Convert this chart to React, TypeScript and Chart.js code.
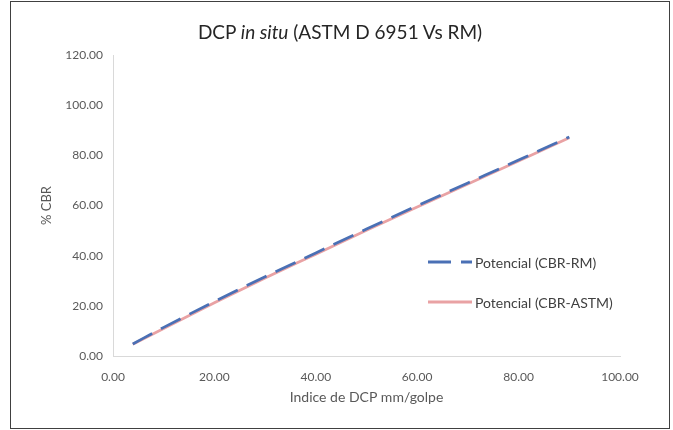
import React, { useEffect, useRef } from "react";
import { Chart, registerables } from "chart.js";

Chart.register(...registerables);

// Data
const xIndex = [3.9, 10, 20, 30, 40, 50, 60, 70, 80, 90];
const cbrRM = [4.8, 11.4, 21.7, 31.6, 41.1, 50.6, 59.9, 69.0, 78.1, 87.3];
const cbrASTM = [4.7, 11.0, 21.2, 31.1, 40.6, 50.1, 59.4, 68.6, 77.7, 87.0];

const seriesNames = ["Potencial (CBR-RM)", "Potencial (CBR-ASTM)"];
const xAxisTitle = "Indice de DCP mm/golpe";
const yAxisTitle = "% CBR";
const xMin = 0, xMax = 100, xStep = 20;
const yMin = 0, yMax = 120, yStep = 20;

const BLUE = "#4a70b5";
const PINK = "#e9a2a4";
const TEXT = "#595959";
const FONT = "Lato, 'Open Sans', sans-serif";

export default function App() {
  const canvasRef = useRef<HTMLCanvasElement | null>(null);

  useEffect(() => {
    const canvas = canvasRef.current;
    if (!canvas) return;
    const toPts = (ys: number[]) => xIndex.map((x, i) => ({ x, y: ys[i] }));
    const chart = new Chart(canvas, {
      type: "scatter",
      data: {
        datasets: [
          {
            label: seriesNames[0],
            data: toPts(cbrRM),
            showLine: true,
            borderColor: BLUE,
            backgroundColor: BLUE,
            borderWidth: 2.75,
            borderDash: [22, 10],
            pointRadius: 0,
            cubicInterpolationMode: "monotone",
          },
          {
            label: seriesNames[1],
            data: toPts(cbrASTM),
            showLine: true,
            borderColor: PINK,
            backgroundColor: PINK,
            borderWidth: 2.75,
            pointRadius: 0,
            cubicInterpolationMode: "monotone",
          },
        ],
      },
      options: {
        animation: false,
        responsive: false,
        maintainAspectRatio: false,
        layout: { padding: { left: 24, right: 49, top: 53, bottom: 18 } },
        plugins: {
          legend: { display: false },
          title: { display: false },
          tooltip: { enabled: false },
        },
        scales: {
          x: {
            type: "linear",
            min: xMin,
            max: xMax,
            grid: { display: false, drawTicks: false },
            border: { display: true, color: "#d9d9d9", width: 1 },
            ticks: {
              stepSize: xStep,
              padding: 14,
              color: TEXT,
              font: { family: FONT, size: 12 },
              callback: (v: any) => Number(v).toFixed(2),
            },
            title: {
              display: true,
              text: xAxisTitle,
              color: TEXT,
              font: { family: FONT, size: 14 },
              padding: { top: 6, bottom: 4 },
            },
            afterFit: (axis: any) => {
              axis.height = 54;
            },
          },
          y: {
            type: "linear",
            min: yMin,
            max: yMax,
            grid: { display: false, drawTicks: false },
            border: { display: true, color: "#d9d9d9", width: 1 },
            ticks: {
              stepSize: yStep,
              padding: 10,
              color: TEXT,
              font: { family: FONT, size: 12 },
              callback: (v: any) => Number(v).toFixed(2),
            },
            title: {
              display: true,
              text: yAxisTitle,
              color: TEXT,
              font: { family: FONT, size: 13 },
              padding: { top: 4, bottom: 4 },
            },
            afterFit: (axis: any) => {
              axis.width = 78;
            },
          },
        },
      },
    });
    return () => chart.destroy();
  }, []);

  const legendItem = (i: number, top: number) => (
    <div
      key={i}
      style={{
        position: "absolute",
        left: 417,
        top: top - 10,
        height: 20,
        display: "flex",
        alignItems: "center",
        whiteSpace: "nowrap",
      }}
    >
      <svg width={44} height={8} style={{ display: "block" }}>
        <line
          x1={0}
          y1={4}
          x2={44}
          y2={4}
          stroke={i === 0 ? BLUE : PINK}
          strokeWidth={3}
          strokeDasharray={i === 0 ? "23 10" : undefined}
        />
      </svg>
      <span
        style={{
          marginLeft: 3,
          fontFamily: FONT,
          fontSize: 14,
          color: "#404040",
        }}
      >
        {seriesNames[i]}
      </span>
    </div>
  );

  return (
    <div
      style={{
        position: "absolute",
        left: 10,
        top: 1,
        width: 660,
        height: 428,
        boxSizing: "border-box",
        border: "1px solid #404040",
        background: "#ffffff",
      }}
    >
      <canvas
        ref={canvasRef}
        width={658}
        height={426}
        style={{ position: "absolute", left: 0, top: 0, width: 658, height: 426 }}
      />
      <div
        style={{
          position: "absolute",
          left: 0,
          top: 18,
          width: 658,
          lineHeight: "24px",
          textAlign: "center",
          fontFamily: FONT,
          fontSize: 19,
          color: "#262626",
        }}
      >
        DCP <i>in situ</i> (ASTM D 6951 Vs RM)
      </div>
      {legendItem(0, 260)}
      {legendItem(1, 300)}
    </div>
  );
}
